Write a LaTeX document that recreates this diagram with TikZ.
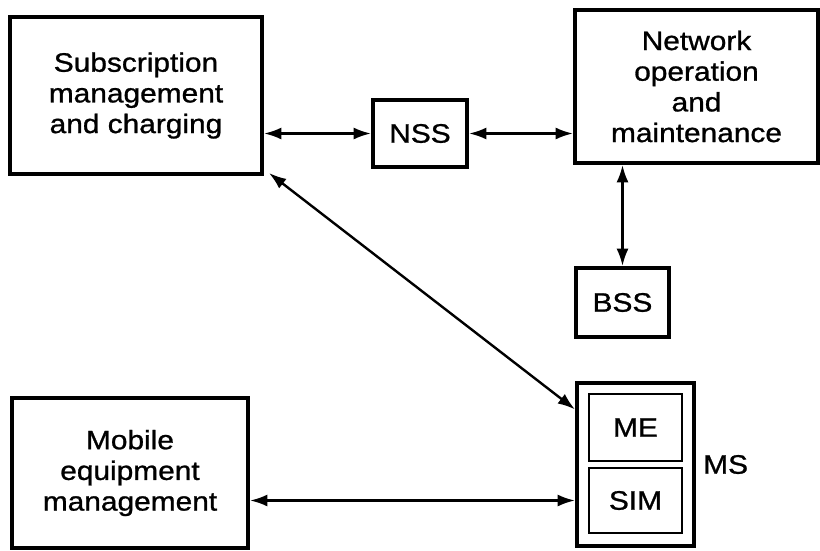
\documentclass[tikz,border=0pt]{standalone}
\usepackage{fontspec}
\setmainfont{Liberation Sans}[FakeStretch=1.12,FakeBold=1]
\usetikzlibrary{arrows.meta,calc}
\begin{document}
\begin{tikzpicture}[x=0.75pt,y=-0.75pt,
  lbl/.style={font=\fontsize{20}{23}\selectfont},
  blk/.style={draw,line width=3pt,rectangle,inner sep=0pt,align=center,lbl},
  tip/.tip={Latex[length=13pt,width=9pt]},
  arr/.style={line width=1.8pt,tip-tip}]
\useasboundingbox (0,0) rectangle (820,550);

% main boxes
\node[blk,minimum width=252*0.75pt,minimum height=157*0.75pt] (sub) at (136,95.5)
  {Subscription\\management\\and charging};
\node[blk,minimum width=94*0.75pt,minimum height=67*0.75pt] (nss) at (420,133.5) {NSS};
\node[blk,minimum width=243*0.75pt,minimum height=153*0.75pt] (net) at (696.5,86.5)
  {Network\\operation\\and\\maintenance};
\node[blk,minimum width=93*0.75pt,minimum height=69*0.75pt] (bss) at (622.5,302.5) {BSS};
\node[blk,minimum width=236*0.75pt,minimum height=150*0.75pt] (mob) at (130,473)
  {Mobile\\equipment\\management};

% mobile station with its two parts
\node[blk,minimum width=117*0.75pt,minimum height=163*0.75pt] (ms) at (635.5,464.5) {};
\node[blk,line width=2.2pt,minimum width=93*0.75pt,minimum height=67*0.75pt] (me) at (635.5,427.5) {ME};
\node[blk,line width=2.2pt,minimum width=93*0.75pt,minimum height=65*0.75pt] (sim) at (635.5,500.5) {SIM};
\node[lbl,anchor=west,inner sep=0pt] (mslbl) at ($(ms.east)+(7,0)$) {MS};

% connectors
\draw[arr] (sub.east |- nss.west) -- (nss.west);
\draw[arr] (nss.east) -- (nss.east -| net.west);
\draw[arr] (bss.north |- net.south) -- (bss.north);
\coordinate (msin) at ($(ms.north west)!0.17!(ms.south west)$);
\draw[arr] ($(sub.south east)+(5,-3)$) -- (msin);
\draw[arr] (sim.west -| mob.east) -- (sim.west -| ms.west);
\end{tikzpicture}
\end{document}
